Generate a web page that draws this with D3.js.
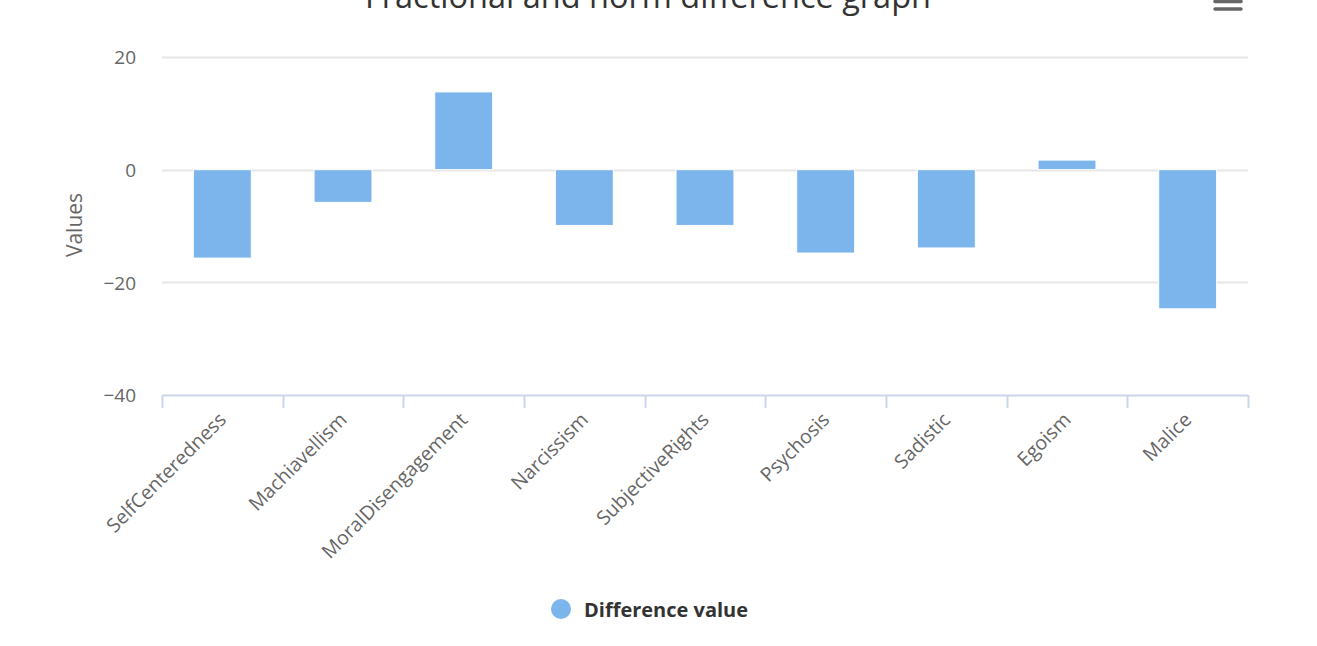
<!DOCTYPE html>
<html>
<head>
<meta charset="utf-8">
<script src="https://cdn.jsdelivr.net/npm/d3@7"></script>
<style>
  html, body { margin: 0; padding: 0; background: #fff; }
  svg { display: block; font-family: "Open Sans", "DejaVu Sans", sans-serif; }
</style>
</head>
<body>
<svg id="chart" width="1317" height="646"></svg>
<script>
const title = "Fractional and norm difference graph";
const categories = ["SelfCenteredness", "Machiavellism", "MoralDisengagement", "Narcissism", "SubjectiveRights", "Psychosis", "Sadistic", "Egoism", "Malice"];
const values = [-15.7, -5.8, 13.8, -9.9, -9.9, -14.8, -13.9, 1.7, -24.7];
const yTicks = [-40, -20, 0, 20];
const seriesName = "Difference value";
const yTitle = "Values";

const svg = d3.select("#chart");
const m = { left: 162, right: 1248, top: 57, bottom: 395 };

const x = d3.scaleBand().domain(categories).range([m.left, m.right]).paddingInner(0).paddingOuter(0);
const y = d3.scaleLinear().domain([-40, 20]).range([m.bottom, m.top]);

// title (partly cut off at the top, as in the reference)
svg.append("text").attr("x", 648).attr("y", 8).attr("text-anchor", "middle")
  .attr("font-size", 32.5).attr("fill", "#333333").text(title);

// hamburger menu
const menu = svg.append("g").attr("stroke", "#666666").attr("stroke-width", 3.5).attr("stroke-linecap", "round");
[-6, 1.5, 9].forEach(yy => menu.append("line").attr("x1", 1215).attr("x2", 1241).attr("y1", yy).attr("y2", yy));

// grid lines
svg.append("g").selectAll("line").data(yTicks.filter(t => t !== -40)).join("line")
  .attr("x1", m.left).attr("x2", m.right)
  .attr("y1", d => Math.round(y(d)) + 0.5).attr("y2", d => Math.round(y(d)) + 0.5)
  .attr("stroke", "#e6e6e6").attr("stroke-width", 2);

// y axis labels
const yAxis = d3.axisLeft(y).tickValues(yTicks).tickSize(0).tickPadding(0)
  .tickFormat(d => d < 0 ? "\u2212" + Math.abs(d) : d);
const yg = svg.append("g").attr("transform", `translate(136,0)`).call(yAxis);
yg.select(".domain").remove();
yg.selectAll("text").attr("font-size", 19).attr("fill", "#666666")
  .attr("font-family", "'Open Sans', sans-serif").attr("dy", "0.36em");

// y title
svg.append("text").attr("transform", "translate(82,225) rotate(-90)").attr("text-anchor", "middle")
  .attr("font-size", 21).attr("fill", "#666666").text(yTitle);

// bars
const bw = x.bandwidth() * 0.48;
svg.append("g").selectAll("rect").data(values).join("rect")
  .attr("x", (d, i) => x(categories[i]) + (x.bandwidth() - bw) / 2)
  .attr("y", d => y(Math.max(0, d)))
  .attr("width", bw)
  .attr("height", d => Math.abs(y(d) - y(0)))
  .attr("fill", "#7cb5ec").attr("stroke", "#ffffff").attr("stroke-width", 1);

// x axis
const xAxis = d3.axisBottom(x).tickSize(0).tickPadding(0);
const xg = svg.append("g").attr("transform", `translate(0,${m.bottom})`).call(xAxis);
xg.select(".domain").remove();
xg.selectAll("text").attr("font-size", 19.6).attr("fill", "#666666")
  .attr("font-family", "'Open Sans', sans-serif")
  .attr("text-anchor", "end").attr("dy", null)
  .attr("transform", "translate(5,26) rotate(-45)");
svg.append("line").attr("x1", m.left).attr("x2", m.right).attr("y1", m.bottom + 0.5).attr("y2", m.bottom + 0.5)
  .attr("stroke", "#ccd6eb").attr("stroke-width", 2);
const bounds = categories.map(c => x(c)).concat([m.right]);
svg.append("g").selectAll("line").data(bounds).join("line")
  .attr("x1", d => Math.round(d) + 0.5).attr("x2", d => Math.round(d) + 0.5)
  .attr("y1", m.bottom).attr("y2", m.bottom + 13)
  .attr("stroke", "#ccd6eb").attr("stroke-width", 2);

// legend
svg.append("circle").attr("cx", 561).attr("cy", 609).attr("r", 10).attr("fill", "#7cb5ec");
svg.append("text").attr("x", 584).attr("y", 617).attr("font-size", 20).attr("font-weight", "bold")
  .attr("fill", "#333333").text(seriesName);
</script>
</body>
</html>
